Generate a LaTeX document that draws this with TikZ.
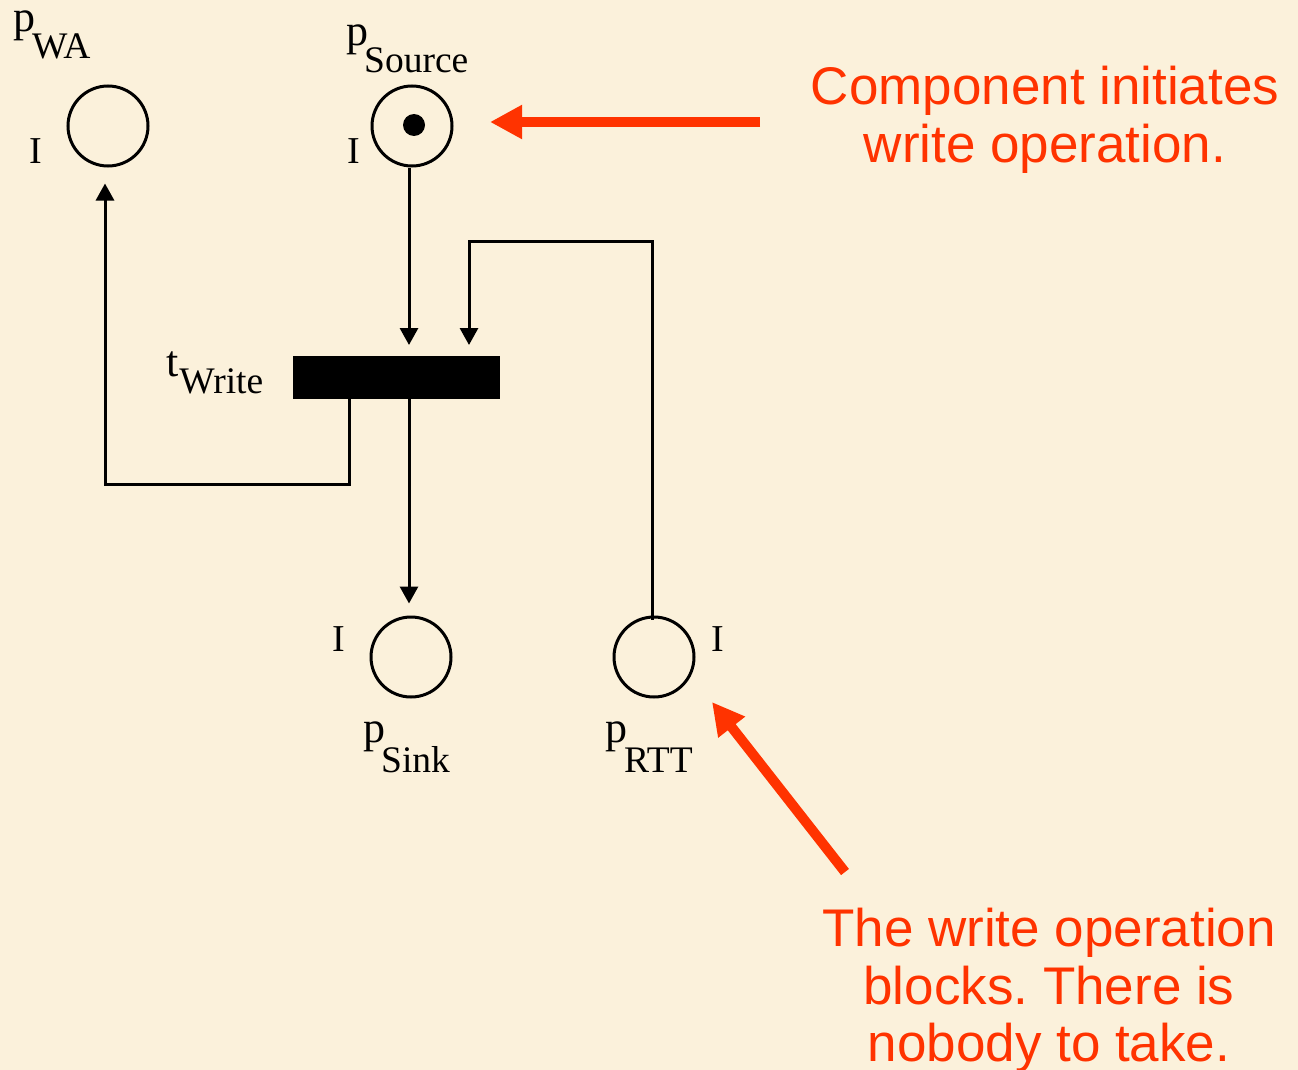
\documentclass[tikz,border=0pt]{standalone}
\usepackage{fontspec}
\setmainfont{Liberation Serif}
\newfontfamily\calloutfont{Liberation Sans}
\usetikzlibrary{arrows.meta}
\definecolor{paper}{RGB}{251,241,219}
\definecolor{callred}{RGB}{255,51,0}
\newcommand{\lblmain}{\fontsize{44}{46}\selectfont}
\newcommand{\lblsub}{\fontsize{37.5}{40}\selectfont}
\newcommand{\pname}[4]{#1\kern#4\raisebox{-#3}{\lblsub #2}}
\tikzset{
  place/.style={circle,draw=black,line width=3pt,minimum size=80pt,inner sep=0pt},
  trans/.style={rectangle,fill=black,draw=black,line width=1pt,minimum width=206pt,minimum height=42pt,inner sep=0pt},
  arc/.style={line width=3pt,-{Triangle[length=17pt,width=18pt]}},
  lbl/.style={font=\lblmain,inner sep=0pt},
  ilbl/.style={font=\fontsize{38}{40}\selectfont,inner sep=0pt},
  callout/.style={font=\calloutfont\fontsize{53}{57.5}\selectfont\frenchspacing,text=callred,align=center,inner sep=0pt},
  callarrow/.style={draw=callred,line width=10pt,-{Triangle[length=32pt,width=32pt]}}
}
\begin{document}
\begin{tikzpicture}[x=1pt,y=-1pt]
\fill[paper] (0,0) rectangle (1298,1070);
\useasboundingbox (0,0) rectangle (1298,1070);

% places
\node[place] (pW) at (108,126) {};
\node[place] (pS) at (412,126) {};
\node[place] (pK) at (411,657) {};
\node[place] (pR) at (654,657) {};
\fill[black] (414,125) circle (11pt);

% transition
\node[trans] (tW) at (396,377.5) {};

% labels
\node[lbl,anchor=base west] (lW) at (13,32) {\pname{p}{WA}{27pt}{-3pt}};
\node[lbl,anchor=base west] (lS) at (346,46) {\pname{p}{Source}{27pt}{-4pt}};
\node[lbl,anchor=base west] (lK) at (363,742) {\pname{p}{Sink}{30pt}{-4pt}};
\node[lbl,anchor=base west] (lR) at (605,742) {\pname{p}{RTT}{30pt}{-3pt}};
\node[lbl,anchor=base west] (lT) at (166,376) {\pname{t}{Write}{17pt}{1pt}};
\node[ilbl,anchor=base] (iW) at (36,164) {I};
\node[ilbl,anchor=base] (iS) at (354,164) {I};
\node[ilbl,anchor=base] (iK) at (339,651) {I};
\node[ilbl,anchor=base] (iR) at (718,651) {I};

% arcs
\draw[arc,shorten >=11pt] ([xshift=-3pt]pS.south) -- ([xshift=-3pt]pS.south |- tW.north);
\draw[arc,shorten >=12pt] ([xshift=-2pt]pK.north |- tW.south) -- ([xshift=-2pt]pK.north);
\draw[arc,shorten >=16pt] ([xshift=57pt]tW.south west) -- ++(0,85) -| ([xshift=-3pt]pW.south);
\coordinate (rttTurn) at (469,241);
\draw[arc,shorten >=11pt] ([xshift=-2pt,yshift=-4pt]pR.north) |- (rttTurn) -- (rttTurn |- tW.north);

% callouts
\node[callout,anchor=north] (c1) at (1045,66) {Component initiates\\write operation.};
\node[callout,anchor=north] (c2) at (1049,908) {The write operation\\blocks. There is\\nobody to take.};
\coordinate (a1s) at (760,122);
\coordinate (a1e) at (490,122);
\draw[callarrow] (a1s) -- (a1e);
\coordinate (a2s) at (845,872);
\coordinate (a2e) at (712,702);
\draw[callarrow] (a2s) -- (a2e);
\end{tikzpicture}
\end{document}
